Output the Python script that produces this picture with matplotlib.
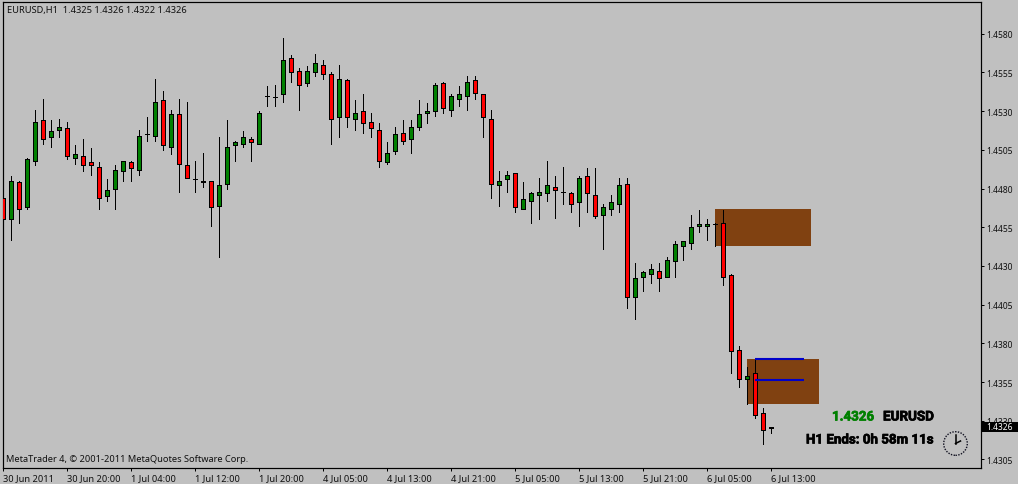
import numpy as np
from matplotlib import pyplot as plt
from matplotlib import patheffects
from matplotlib.patches import Rectangle, Circle
from matplotlib.lines import Line2D
from matplotlib.transforms import IdentityTransform

# prices x 10000, one entry per hourly bar
opens = [14474, 14460, 14484, 14468, 14498, 14524, 14513, 14518, 14519, 14500,
         14501, 14497, 14494, 14475, 14480, 14491, 14497, 14492, 14515, 14514,
         14537, 14507, 14528, 14495, 14486, 14485, 14485, 14469, 14483, 14508,
         14509, 14512, 14509, 14540, 14539, 14541, 14564, 14556, 14548, 14555,
         14560, 14554, 14526, 14550, 14525, 14530, 14523, 14518, 14497, 14504,
         14516, 14512, 14520, 14529, 14530, 14548, 14531, 14538, 14540, 14550,
         14541, 14525, 14482, 14486, 14490, 14467, 14472, 14476, 14477, 14481,
         14478, 14477, 14471, 14488, 14476, 14463, 14467, 14470, 14483, 14410,
         14423, 14425, 14427, 14423, 14433, 14443, 14445, 14456, 14456, 14457,
         14458, 14424, 14376, 14357, 14361, 14335, 14325]
closes = [14460, 14485, 14467, 14499, 14523, 14512, 14517, 14520, 14501, 14502,
          14495, 14495, 14474, 14479, 14492, 14498, 14493, 14514, 14515, 14536,
          14508, 14528, 14496, 14487, 14486, 14484, 14468, 14482, 14507, 14510,
          14513, 14510, 14529, 14540, 14539, 14563, 14555, 14547, 14556, 14561,
          14554, 14525, 14551, 14526, 14529, 14522, 14519, 14498, 14503, 14515,
          14511, 14520, 14528, 14530, 14547, 14532, 14540, 14541, 14549, 14542,
          14526, 14483, 14485, 14489, 14468, 14473, 14477, 14478, 14482, 14479,
          14478, 14470, 14487, 14477, 14462, 14468, 14471, 14482, 14410, 14422,
          14426, 14428, 14422, 14434, 14444, 14446, 14455, 14457, 14457, 14457,
          14423, 14375, 14357, 14359, 14334, 14324, 14326]
highs = [14478, 14488, 14485, 14500, 14531, 14538, 14524, 14525, 14523, 14508,
         14512, 14506, 14497, 14486, 14495, 14498, 14498, 14518, 14526, 14551,
         14543, 14531, 14538, 14536, 14498, 14503, 14485, 14513, 14524, 14511,
         14517, 14513, 14530, 14546, 14547, 14577, 14566, 14558, 14559, 14567,
         14563, 14555, 14560, 14551, 14537, 14541, 14529, 14522, 14510, 14520,
         14524, 14524, 14537, 14535, 14548, 14549, 14541, 14546, 14553, 14553,
         14541, 14531, 14491, 14491, 14490, 14484, 14478, 14487, 14498, 14488,
         14494, 14478, 14488, 14493, 14493, 14470, 14476, 14487, 14487, 14432,
         14427, 14431, 14432, 14436, 14446, 14446, 14463, 14466, 14460, 14458,
         14466, 14425, 14378, 14365, 14370, 14338, 14326]
lows = [14454, 14447, 14458, 14467, 14495, 14509, 14507, 14513, 14499, 14496,
        14491, 14489, 14467, 14472, 14467, 14485, 14485, 14489, 14511, 14511,
        14505, 14502, 14478, 14487, 14478, 14481, 14456, 14436, 14480, 14498,
        14507, 14498, 14509, 14533, 14533, 14536, 14549, 14531, 14546, 14553,
        14551, 14509, 14513, 14520, 14518, 14516, 14513, 14494, 14496, 14502,
        14509, 14503, 14518, 14522, 14527, 14529, 14527, 14533, 14531, 14538,
        14513, 14474, 14469, 14478, 14465, 14467, 14458, 14460, 14472, 14461,
        14470, 14465, 14456, 14465, 14461, 14441, 14463, 14465, 14403, 14396,
        14414, 14419, 14414, 14423, 14423, 14434, 14441, 14452, 14447, 14443,
        14418, 14361, 14352, 14341, 14332, 14315, 14322]

time_ticks = [0, 8, 16, 24, 32, 40, 48, 56, 64, 72, 80, 88, 96]
time_labels = ['30 Jun 2011', '30 Jun 20:00', '1 Jul 04:00', '1 Jul 12:00', '1 Jul 20:00',
               '4 Jul 05:00', '4 Jul 13:00', '4 Jul 21:00', '5 Jul 05:00', '5 Jul 13:00',
               '5 Jul 21:00', '6 Jul 05:00', '6 Jul 13:00']
price_ticks = [1.4580, 1.4555, 1.4530, 1.4505, 1.4480, 1.4455, 1.4430, 1.4405, 1.4380, 1.4355, 1.4330, 1.4305]

zone_start = [89, 93]
zone_end = [101, 102]
zone_top = [1.4467, 1.4370]
zone_bottom = [1.4443, 1.4341]
level_prices = [1.4370, 1.4356]
level_start = 94
level_end = 100.1
last_price = 1.4326

W, H = 1018, 485
BG = '#c0c0c0'
UI_FONT = ['Noto Sans', 'DejaVu Sans']
BOLD_FONT = ['Liberation Sans Narrow', 'Roboto', 'DejaVu Sans']
PX = 0.72

o = np.array(opens) / 10000
c = np.array(closes) / 10000
h = np.array(highs) / 10000
l = np.array(lows) / 10000
x = np.arange(len(o))

fig = plt.figure(figsize=(W / 100, H / 100), dpi=100, facecolor=BG)
ax = fig.add_axes([2.5 / W, (H - 468.5) / H, 978 / W, 466 / H], facecolor=BG)
ax.set_xlim(-0.1, 122.15)
ax.set_ylim(1.42998, 1.46008)

for left, right, top, bottom in zip(zone_start, zone_end, zone_top, zone_bottom):
    ax.add_patch(Rectangle((left - 0.04, bottom), right - left, top - bottom,
                           facecolor='#804111', edgecolor='none', zorder=1))

ax.vlines(x, l, h, color='black', lw=PX, zorder=3, antialiased=False)
colors = np.where(c >= o, '#008000', '#ff0000')
ax.bar(x, np.abs(c - o), bottom=np.minimum(o, c), width=0.5, color=colors,
       edgecolor='black', linewidth=PX, zorder=4, antialiased=False)
ax.hlines(level_prices, level_start, level_end, color='#0000c8', lw=1.5, zorder=5)

ax.yaxis.tick_right()
ax.set_yticks(price_ticks)
ax.set_yticklabels(['%.4f' % p for p in price_ticks], fontsize=6.1, family=UI_FONT, color='#101010')
ax.set_xticks(time_ticks)
ax.set_xticklabels(time_labels, fontsize=6.7, family=UI_FONT, color='#101010', ha='left')
ax.tick_params(axis='y', length=2.2, width=PX, color='black', pad=2)
ax.tick_params(axis='x', length=2.2, width=PX, color='black', pad=1.5)
for side in ax.spines.values():
    side.set_linewidth(PX * 1.2)

# current price tag on the axis, hides part of the 1.4330 label
ax.add_patch(Rectangle((1.0015, last_price - 0.00033), 0.037, 0.00066,
                       transform=ax.get_yaxis_transform(), facecolor='black',
                       edgecolor='none', zorder=9, clip_on=False))
ax.text(1.0056, last_price, '%.4f' % last_price, transform=ax.get_yaxis_transform(),
        fontsize=6.1, family=UI_FONT, color='white', va='center', ha='left', zorder=10,
        clip_on=False)


def label(px, py, s, **kw):
    fig.text(px / W, 1 - py / H, s, va='center', **kw)


def heavy(color):
    return [patheffects.withStroke(linewidth=0.5, foreground=color)]


label(7, 10, 'EURUSD,H1  1.4325 1.4326 1.4322 1.4326', fontsize=6.7, family=UI_FONT, color='#101010')
label(6, 460, 'MetaTrader 4, \u00a9 2001-2011 MetaQuotes Software Corp.', fontsize=6.65, family=UI_FONT, color='#101010')
label(832, 418, '1.4326', fontsize=9.6, family=BOLD_FONT, weight='bold', color='#008000', path_effects=heavy('#008000'))
label(883, 418, 'EURUSD', fontsize=9.7, family=BOLD_FONT, weight='bold', color='black', path_effects=heavy('black'))
label(806, 441, 'H1 Ends: 0h 58m 11s', fontsize=9.6, family=BOLD_FONT, weight='bold', color='black', path_effects=heavy('black'))

# clock icon, in pixels
cx, cy = 955.5, H - 444.5
disp = IdentityTransform()
fig.add_artist(Circle((cx, cy), 11.8, transform=disp, fill=False, edgecolor='#101020', lw=1.0, linestyle=(0, (1, 1))))
fig.add_artist(Line2D([cx, cx], [cy, cy + 8.5], transform=disp, color='black', lw=1.1))
fig.add_artist(Line2D([cx, cx + 5], [cy, cy + 2.5], transform=disp, color='black', lw=1.1))

fig.savefig('out.png', dpi=100, facecolor=BG)
